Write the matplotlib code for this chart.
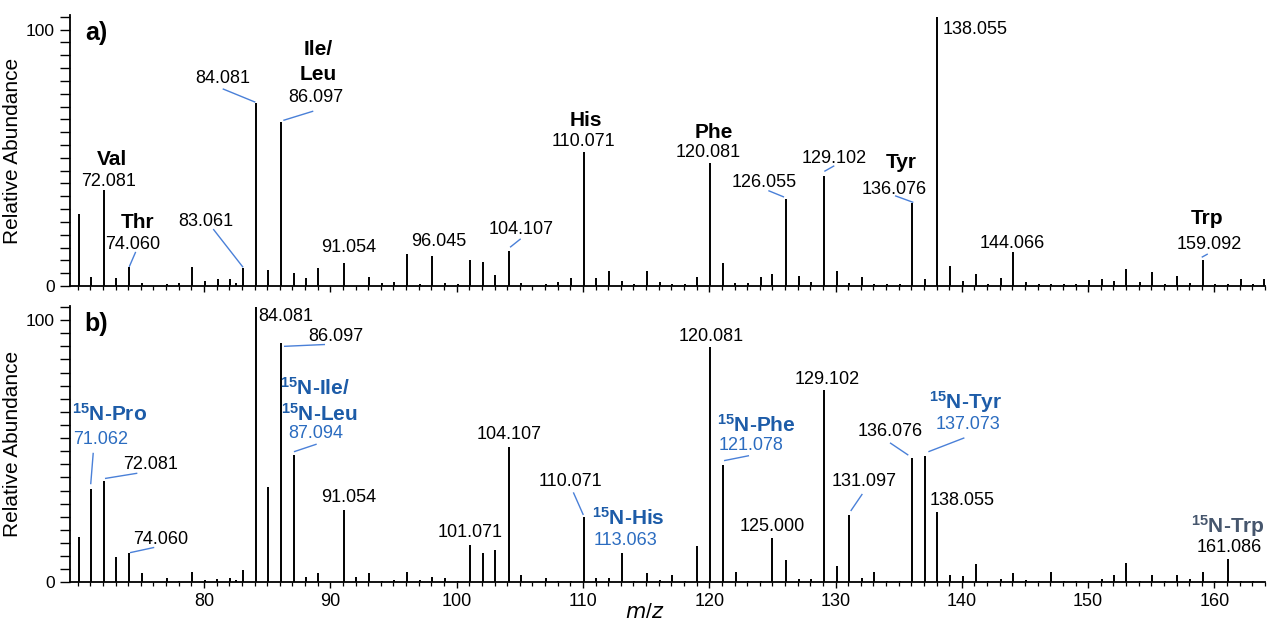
import matplotlib
matplotlib.use("Agg")
import matplotlib.pyplot as plt
from matplotlib.ticker import MultipleLocator, FixedLocator

plt.rcParams['font.family'] = ['Liberation Sans', 'DejaVu Sans']
plt.rcParams['mathtext.fontset'] = 'custom'
plt.rcParams['mathtext.rm'] = 'Liberation Sans'
plt.rcParams['mathtext.bf'] = 'Liberation Sans:bold'

# ---------------- data ----------------
mz_a = [70.065, 71.07, 72.081, 73.05, 74.060, 75.07, 77.04, 78.05, 79.05, 80.05,
        81.07, 82.07, 82.5, 83.061, 84.081, 85.07, 86.097, 87.09, 88.07, 89.06,
        91.054, 93.07, 94.07, 95.05, 96.045, 97.07, 98.06, 99.05, 100.07, 101.071,
        102.05, 103.07, 104.107, 105.07, 107.05, 108.06, 109.05, 110.071, 111.07, 112.09,
        113.07, 114.05, 115.06, 116.07, 117.07, 118.07, 119.05, 120.081, 121.08, 122.07,
        123.05, 124.06, 125.00, 126.055, 127.07, 128.07, 129.102, 130.09, 131.10, 132.08,
        133.08, 134.07, 135.07, 136.076, 137.07, 138.055, 139.06, 140.07, 141.08, 142.08,
        143.08, 144.066, 145.07, 146.07, 147.07, 148.07, 149.07, 150.07, 151.07, 152.08,
        153.00, 154.07, 155.07, 156.07, 157.07, 158.07, 159.092, 160.07, 161.08, 162.08,
        163.08, 163.95]
int_a = [28.1, 3.6, 37.5, 3.0, 7.5, 1.0, 0.6, 1.0, 7.3, 2.0,
         2.7, 2.7, 1.0, 7.2, 71.3, 6.3, 64.0, 5.2, 3.3, 6.9,
         8.8, 3.6, 1.0, 1.5, 12.5, 0.8, 11.7, 1.0, 0.8, 10.2,
         9.5, 4.3, 13.8, 1.0, 0.8, 1.5, 3.3, 52.2, 3.3, 5.9,
         2.0, 0.8, 6.0, 1.5, 0.8, 0.8, 3.6, 47.9, 9.1, 1.0,
         1.0, 3.4, 4.6, 34.0, 3.9, 1.5, 43.0, 5.9, 1.0, 3.4,
         0.8, 0.8, 0.8, 32.3, 2.9, 105.0, 7.8, 2.0, 4.6, 0.8,
         3.3, 13.4, 1.5, 0.8, 0.8, 0.8, 0.8, 2.3, 2.9, 1.8,
         6.8, 1.5, 5.5, 0.8, 3.9, 1.0, 10.2, 0.8, 0.8, 2.7,
         0.8, 2.7]

mz_b = [70.065, 71.062, 72.081, 73.07, 74.060, 75.07, 77.05, 78.05, 79.05, 80.05,
        81.05, 82.06, 82.5, 83.06, 84.081, 85.07, 86.097, 87.094, 88.07, 89.06,
        91.054, 92.06, 93.07, 94.07, 95.07, 96.05, 97.07, 98.06, 99.04, 100.07,
        101.071, 102.06, 103.07, 104.107, 105.07, 107.07, 108.06, 109.05, 110.071, 111.07,
        112.07, 113.063, 114.07, 115.06, 116.07, 117.07, 118.07, 119.07, 120.081, 121.078,
        122.08, 123.08, 124.07, 125.000, 126.06, 127.07, 128.07, 129.102, 130.08, 131.097,
        132.08, 133.08, 134.07, 135.07, 136.076, 137.073, 138.055, 139.07, 140.07, 141.08,
        142.08, 143.08, 144.07, 145.07, 146.07, 147.07, 148.07, 149.07, 150.07, 151.07,
        152.08, 153.00, 154.07, 155.07, 156.07, 157.07, 158.07, 159.07, 160.07, 161.086,
        162.08, 163.08]
int_b = [17.2, 35.6, 38.7, 9.6, 11.3, 3.7, 1.5, 0.5, 3.8, 1.0,
         1.3, 1.5, 0.8, 4.7, 105.0, 36.2, 91.1, 48.5, 2.1, 3.7,
         27.6, 1.9, 3.7, 0.5, 0.8, 3.8, 1.0, 2.2, 1.5, 0.5,
         14.2, 11.3, 12.3, 51.7, 2.8, 1.5, 0.6, 0.5, 25.0, 1.5,
         1.8, 11.0, 0.6, 3.4, 1.0, 2.8, 0.5, 14.0, 89.8, 44.7,
         3.8, 0.6, 0.5, 16.8, 8.5, 1.1, 1.1, 73.3, 6.3, 25.7,
         1.5, 3.8, 0.6, 0.6, 47.3, 48.2, 26.9, 2.8, 2.5, 7.0,
         0.6, 1.1, 3.4, 0.8, 0.5, 3.9, 0.5, 0.5, 0.6, 1.1,
         2.8, 7.5, 0.6, 2.8, 0.6, 2.8, 1.1, 4.0, 0.6, 8.9,
         0.6, 0.6]

x_ticks = [80, 90, 100, 110, 120, 130, 140, 150, 160]
y_ticks = [0, 100]
y_label = "Relative Abundance"
x_label = "$m/z$"

# ------------- annotation layout (text, x, y, style) -------------
BLACK = "black"
BLUE_B = "#1d5ca8"
BLUE_N = "#2b6cc0"
CONN = "#4a80d8"
SLATE = "#46566d"

labels_a = [
    ("Val", 72.71, 49.3, "bold"), ("72.081", 72.48, 40.7, "num"),
    ("Thr", 74.73, 24.8, "bold"), ("74.060", 74.38, 16.0, "num"),
    ("83.061", 80.16, 25.1, "num"),
    ("84.081", 81.50, 81.0, "num"),
    ("Ile/", 89.02, 92.3, "bold"), ("Leu", 89.02, 82.5, "bold"), ("86.097", 88.87, 73.5, "num"),
    ("91.054", 91.48, 14.9, "num"),
    ("96.045", 98.57, 17.3, "num"),
    ("104.107", 105.10, 21.9, "num"),
    ("His", 110.22, 64.6, "bold"), ("110.071", 110.03, 56.4, "num"),
    ("Phe", 120.36, 59.7, "bold"), ("120.081", 119.93, 51.9, "num"),
    ("126.055", 124.34, 40.2, "num"),
    ("129.102", 129.88, 49.9, "num"),
    ("Tyr", 135.17, 48.0, "bold"), ("136.076", 134.63, 37.8, "num"),
    ("138.055", 141.04, 100.1, "num"),
    ("144.066", 144.01, 16.7, "num"),
    ("Trp", 159.39, 26.5, "bold"), ("159.092", 159.57, 16.0, "num"),
]
conn_a = [
    ((74.59, 13.3), (74.08, 7.5)),
    ((80.73, 22.2), (83.09, 7.3)),
    ((81.48, 76.9), (84.06, 71.7)),
    ((88.65, 68.2), (86.28, 64.6)),
    ((105.07, 18.4), (104.23, 15.1)),
    ((124.68, 37.2), (125.92, 34.7)),
    ((129.90, 46.9), (129.11, 44.7)),
    ((134.71, 35.2), (136.16, 32.6)),
    ((159.47, 12.5), (158.99, 11.2)),
]

labels_b = [
    (r"$\mathbf{^{15}}$N-Pro", 72.52, 64.4, "bbold"), ("71.062", 71.84, 54.6, "bnum"),
    ("72.081", 75.78, 45.1, "num"),
    ("74.060", 76.59, 16.4, "num"),
    ("84.081", 86.45, 101.3, "num"),
    ("86.097", 90.41, 93.6, "num"),
    (r"$\mathbf{^{15}}$N-Ile/", 88.81, 74.0, "bbold"),
    (r"$\mathbf{^{15}}$N-Leu", 89.10, 64.4, "bbold"),
    ("87.094", 88.88, 56.8, "bnum"),
    ("91.054", 91.48, 32.3, "num"),
    ("101.071", 101.06, 18.9, "num"),
    ("104.107", 104.19, 56.4, "num"),
    ("110.071", 108.98, 38.4, "num"),
    (r"$\mathbf{^{15}}$N-His", 113.58, 24.4, "bbold"), ("113.063", 113.38, 16.1, "bnum"),
    ("120.081", 120.16, 93.6, "num"),
    (r"$\mathbf{^{15}}$N-Phe", 123.76, 60.2, "bbold"), ("121.078", 123.29, 52.1, "bnum"),
    ("125.000", 124.95, 21.2, "num"),
    ("129.102", 129.32, 77.5, "num"),
    ("131.097", 132.29, 38.4, "num"),
    ("136.076", 134.29, 57.4, "num"),
    (r"$\mathbf{^{15}}$N-Tyr", 140.33, 68.9, "bbold"), ("137.073", 140.49, 60.2, "bnum"),
    ("138.055", 139.99, 31.1, "num"),
    (r"$\mathbf{^{15}}$N-Trp", 161.08, 21.5, "trp"), ("161.086", 161.14, 13.3, "num"),
]
conn_b = [
    ((71.23, 49.4), (71.03, 37.4)),
    ((74.72, 41.6), (72.16, 39.6)),
    ((76.06, 13.3), (74.14, 11.3)),
    ((89.58, 90.7), (86.33, 90.0)),
    ((88.92, 52.7), (87.12, 49.8)),
    ((109.24, 34.3), (110.03, 25.7)),
    ((123.15, 48.3), (121.17, 46.4)),
    ((132.12, 33.7), (131.20, 27.2)),
    ((134.31, 53.2), (135.76, 48.5)),
    ((140.20, 55.1), (137.35, 49.8)),
]

styles = {
    "num": dict(color=BLACK, fontsize=13, fontweight="normal"),
    "bold": dict(color=BLACK, fontsize=15, fontweight="bold"),
    "bnum": dict(color=BLUE_N, fontsize=13, fontweight="normal"),
    "bbold": dict(color=BLUE_B, fontsize=15, fontweight="bold"),
    "trp": dict(color=SLATE, fontsize=15, fontweight="bold"),
}

# ---------------- figure ----------------
W, H = 1268, 623
fig = plt.figure(figsize=(W / 100, H / 100), dpi=100)

def px_axes(x0, y_top, x1, y_bot):
    return fig.add_axes([x0 / W, 1 - y_bot / H, (x1 - x0) / W, (y_bot - y_top) / H])

ax_a = px_axes(70, 15, 1265, 286)
ax_b = px_axes(70, 305.7, 1265, 582.3)

XLIM = (69.39, 164.0)

def style_axis(ax, ytop, show_xlabels):
    ax.set_xlim(*XLIM)
    ax.set_ylim(0, ytop)
    for s in ("top", "right"):
        ax.spines[s].set_visible(False)
    for s in ("left", "bottom"):
        ax.spines[s].set_linewidth(1.3)
        ax.spines[s].set_color("black")
    ax.yaxis.set_major_locator(FixedLocator(y_ticks))
    ax.yaxis.set_minor_locator(MultipleLocator(5))
    ax.xaxis.set_major_locator(FixedLocator(x_ticks))
    ax.xaxis.set_minor_locator(MultipleLocator(1))
    ax.tick_params(axis="y", which="both", direction="out", length=7, width=1.0, labelsize=12.5, pad=4)
    ax.tick_params(axis="x", which="major", direction="out", length=4, width=1.0, labelsize=13, pad=4)
    ax.tick_params(axis="x", which="minor", direction="out", length=3, width=0.9)
    if not show_xlabels:
        ax.tick_params(axis="x", which="both", labelbottom=False)
    ax.set_ylabel(y_label, fontsize=15)
    ax.yaxis.set_label_coords(-0.040, 0.5)

def draw(ax, mz, inten, labels, conns, tag):
    ax.vlines(mz, 0, inten, color="black", linewidth=1.4)
    for (x0, y0), (x1, y1) in conns:
        ax.plot([x0, x1], [y0, y1], color=CONN, linewidth=1.0, solid_capstyle="butt")
    for txt, x, y, st in labels:
        ax.text(x, y, txt, ha="center", va="center", **styles[st])
    ax.text(71.45, 98.5, tag, ha="center", va="center", fontsize=18, fontweight="bold")

style_axis(ax_a, 105.7, False)
style_axis(ax_b, 105.5, True)
draw(ax_a, mz_a, int_a, labels_a, conn_a, "a)")
draw(ax_b, mz_b, int_b, labels_b, conn_b, "b)")

fig.text(645 / W, 1 - 612 / H, x_label, ha="center", va="center", fontsize=15)

fig.savefig("out.png", dpi=100)
